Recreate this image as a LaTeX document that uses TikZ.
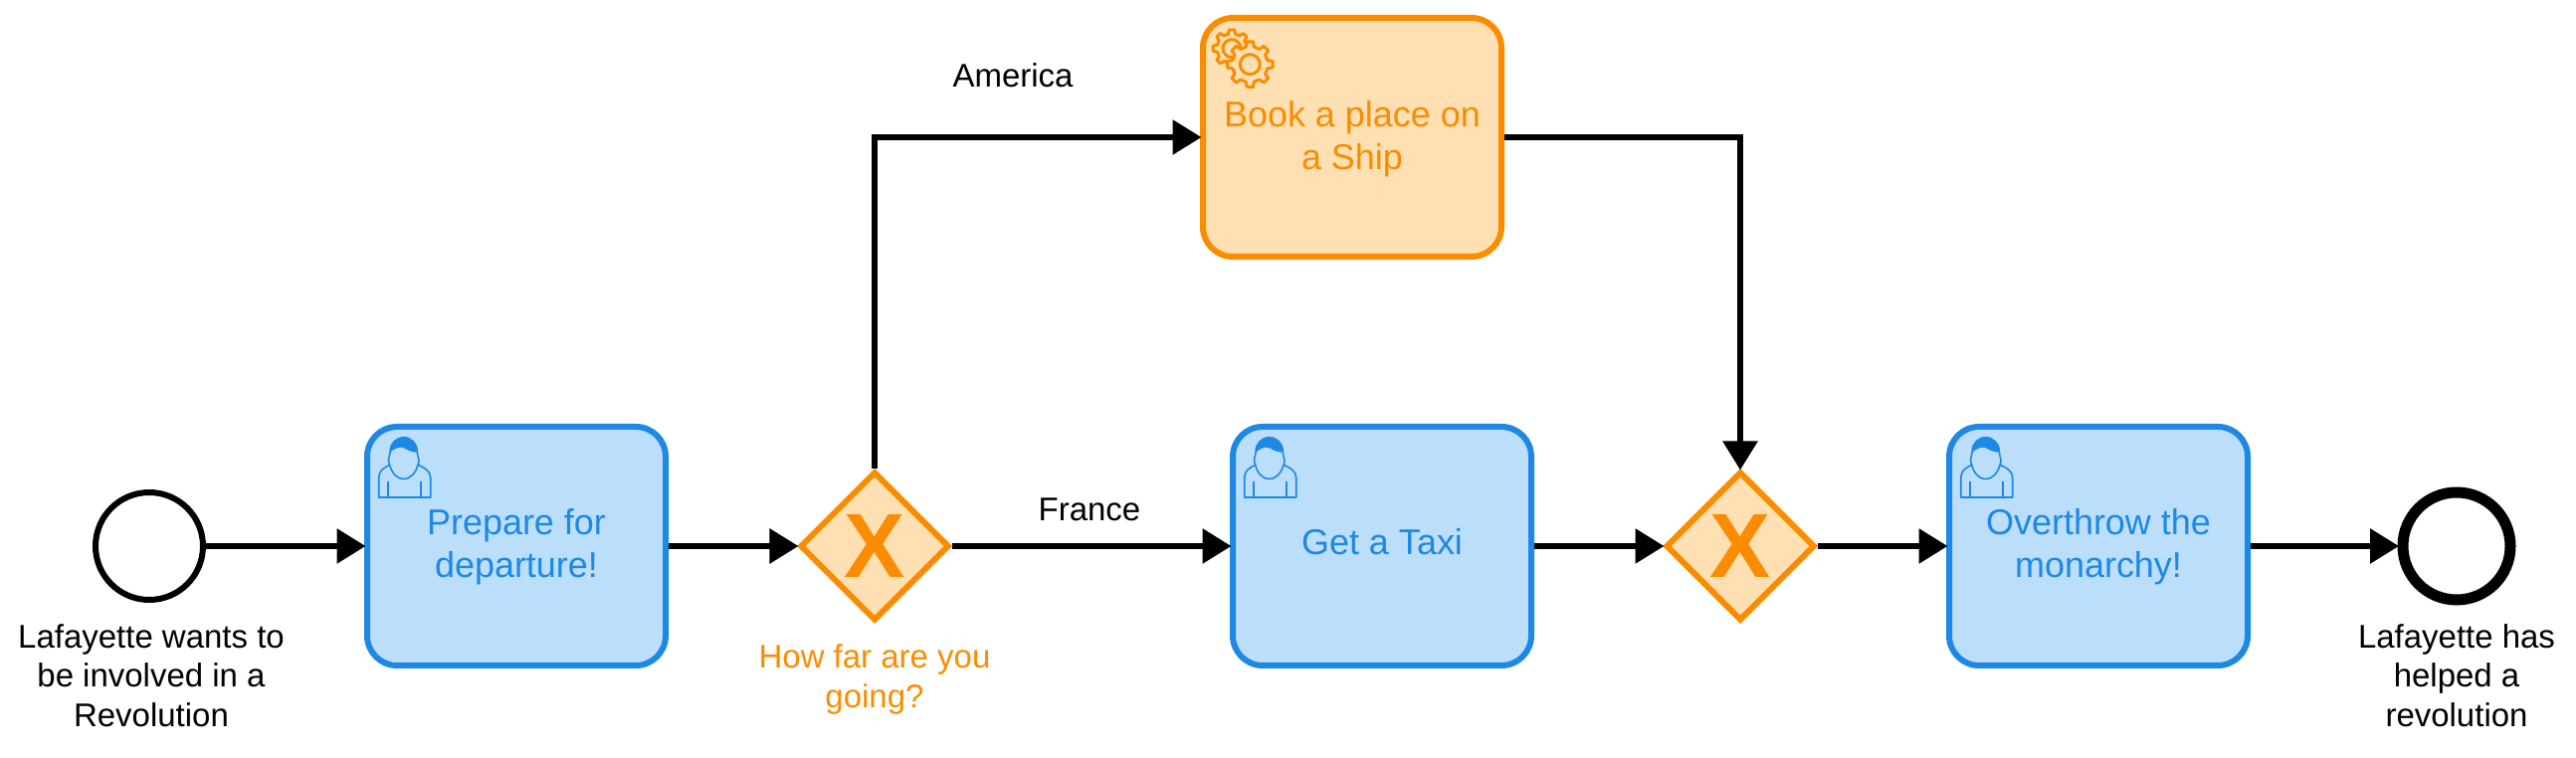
\documentclass[tikz,border=0pt]{standalone}
\usepackage{fontspec}
\setmainfont{Liberation Sans}
\usetikzlibrary{positioning,arrows.meta,shapes.geometric}

\definecolor{taskblue}{HTML}{1E88E5}
\definecolor{taskbluefill}{HTML}{BBDEFB}
\definecolor{taskorange}{HTML}{FB8C00}
\definecolor{taskorangefill}{HTML}{FFE0B2}

\tikzset{
  flow/.style={black,line width=6bp,shorten >=-1.5bp,-{Triangle[length=29bp,width=34bp]}},
  usertask/.style={draw=taskblue,fill=taskbluefill,text=taskblue,line width=6bp,rounded corners=30bp,
    minimum width=300bp,minimum height=240bp,inner sep=0pt,align=center,
    text height=72bp,text depth=8bp,
    font=\fontsize{36.1}{43.2}\selectfont},
  servicetask/.style={usertask,draw=taskorange,fill=taskorangefill,text=taskorange,text height=74bp},
  xorgate/.style={shape=diamond,draw=taskorange,fill=taskorangefill,text=taskorange,line width=6bp,
    minimum width=150bp,minimum height=150bp,inner sep=0pt,
    font=\fontsize{92}{92}\selectfont\bfseries},
  startevent/.style={shape=circle,draw=black,fill=white,line width=6bp,minimum size=108bp,inner sep=0pt},
  endevent/.style={startevent,line width=11bp},
  caption/.style={align=center,inner sep=0pt,font=\fontsize{33.1}{39.6}\selectfont},
  usericon/.pic={
    \begin{scope}[draw=taskblue,line width=1.6bp,line join=round]
      \draw (-14bp,-14bp) .. controls (-17bp,-10bp) and (-13.5bp,-5bp) .. (-13.5bp,0bp)
        arc [start angle=180,end angle=0,radius=13.5bp]
        .. controls (13.5bp,-5bp) and (17bp,-10bp) .. (14.3bp,-14bp);
      \fill [taskblue] (-13.5bp,-1.5bp) arc [start angle=186,end angle=-6,radius=13.5bp]
        .. controls (7bp,-1bp) and (4bp,1bp) .. (0bp,3bp)
        .. controls (-4bp,5bp) and (-10bp,2bp) .. (-13.5bp,-1.5bp) -- cycle;
      \draw (-25bp,-46.7bp) -- (-25bp,-27bp) .. controls (-25bp,-20bp) and (-20bp,-17bp) .. (-14bp,-14bp)
        .. controls (-12bp,-23bp) and (-6bp,-28.3bp) .. (0bp,-28.3bp)
        .. controls (6bp,-28.3bp) and (12bp,-23bp) .. (14.3bp,-14bp)
        .. controls (21bp,-17bp) and (27bp,-20bp) .. (27bp,-27bp) -- (27bp,-46.7bp) -- cycle;
      \draw (-15.7bp,-30.7bp) -- (-15.7bp,-46bp);
      \draw (17bp,-30.7bp) -- (17bp,-46bp);
    \end{scope}
  },
  pics/gearwheel/.style n args={3}{code={
    \draw [taskorange,fill=taskorangefill,line width=3bp,line join=round] (-13:#2)
      \foreach \gearangle in {0,45,...,315} {
        -- (\gearangle-13:#2) -- (\gearangle-8:#1) -- (\gearangle+8:#1) -- (\gearangle+13:#2)
      } -- cycle;
    \draw [taskorange,line width=3bp] (0,0) circle [radius=#3];
  }},
}

\begin{document}
\begin{tikzpicture}[x=1bp,y=1bp,line join=miter]
\useasboundingbox (0bp,0bp) rectangle (2589bp,762bp);
%%
\node (begin) at (150bp,213bp) [startevent] {};
  \node (prepare) at (519bp,213bp) [usertask] {Prepare for\\departure!};
  \node (farcheck) at (879bp,213bp) [xorgate] {X};
  \node (ship) at (1359bp,624bp) [servicetask] {Book a place on\\a Ship};
  \node (taxi) at (1389bp,213bp) [usertask,text height=26bp,text depth=9.8bp] {Get a Taxi};
  \node (merge) at (1749bp,213bp) [xorgate] {X};
  \node (overthrow) at (2109bp,213bp) [usertask] {Overthrow the\\monarchy!};
  \node (finish) at (2469bp,213bp) [endevent] {};
  \node (begincaption) at (152bp,83bp) [caption] {Lafayette wants to\\be involved in a\\Revolution};
  \node (farcaption) at (879bp,79bp) [caption,text=taskorange] {How far are you\\going?};
  \node (finishcaption) at (2469bp,83bp) [caption] {Lafayette has\\helped a\\revolution};
  \node (americalabel) at (1018bp,686bp) [caption] {America};
  \node (francelabel) at (1095bp,249.5bp) [caption] {France};
%
  \pic at ([shift={(-113.3bp,95.7bp)}]prepare.center) {usericon};
  \pic at ([shift={(-113.3bp,95.7bp)}]taxi.center) {usericon};
  \pic at ([shift={(-113.3bp,95.7bp)}]overthrow.center) {usericon};
  \pic at ([shift={(-121bp,89.3bp)}]ship.center) {gearwheel={19bp}{15bp}{9bp}};
  \pic at ([shift={(-102.7bp,73.3bp)}]ship.center) {gearwheel={23bp}{18bp}{10bp}};
%
  \draw [flow] (begin) -- (prepare);
  \draw [flow] (prepare) -- (farcheck);
  \draw [flow] (farcheck) -- (taxi);
  \draw [flow] (farcheck) |- (ship);
  \draw [flow] (ship) -| (merge);
  \draw [flow] (taxi) -- (merge);
  \draw [flow] (merge) -- (overthrow);
  \draw [flow] (overthrow) -- (finish);
%
\end{tikzpicture}
\end{document}
